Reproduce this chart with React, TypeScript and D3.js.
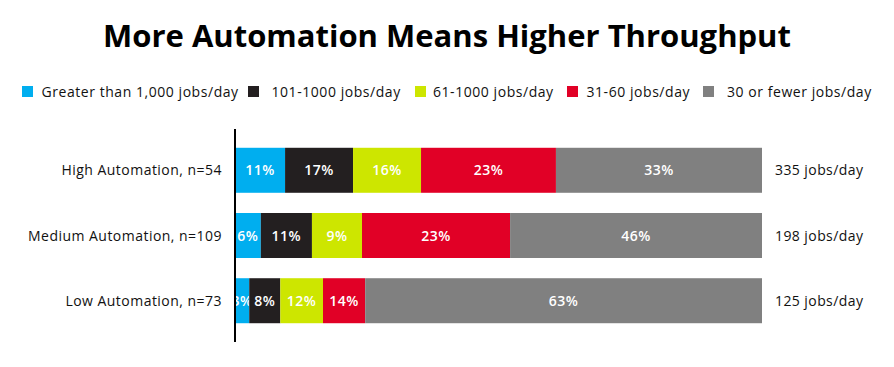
import React, { useEffect, useRef } from 'react';
import * as d3 from 'd3';

const title = 'More Automation Means Higher Throughput';
const categories = ['High Automation, n=54', 'Medium Automation, n=109', 'Low Automation, n=73'];
const seriesNames = ['Greater than 1,000 jobs/day', '101-1000 jobs/day', '61-1000 jobs/day', '31-60 jobs/day', '30 or fewer jobs/day'];
const colors = ['#00aeef', '#231f20', '#cde600', '#e10026', '#808080'];
// bar lengths as drawn (share of bar width)
const high = [9.5, 12.9, 12.9, 25.6, 39.1];
const medium = [4.9, 9.7, 9.5, 28.1, 47.8];
const low = [2.7, 5.9, 8.1, 8.0, 75.3];
// printed labels
const highLabels = ['11%', '17%', '16%', '23%', '33%'];
const mediumLabels = ['6%', '11%', '9%', '23%', '46%'];
const lowLabels = ['3%', '8%', '12%', '14%', '63%'];
const totals = ['335 jobs/day', '198 jobs/day', '125 jobs/day'];

const W = 894;
const H = 359;
const font = "'Open Sans', sans-serif";
// legend layout: swatch left edge and text left edge per item
const legendSwatchX = [22, 248, 415, 567, 703];
const legendTextX = [41.5, 271.5, 433, 586.5, 727];

export default function App() {
  const ref = useRef<SVGSVGElement>(null);

  useEffect(() => {
    const svg = d3.select(ref.current);
    svg.selectAll('*').remove();

    const rows = [high, medium, low];
    const labels = [highLabels, mediumLabels, lowLabels];

    const x = d3.scaleLinear().domain([0, 100]).range([235, 762]);
    const y = d3.scaleBand().domain(categories).range([138, 333]).paddingInner(0.31).paddingOuter(0.15);

    svg.append('text')
      .attr('x', W / 2).attr('y', 47)
      .attr('text-anchor', 'middle')
      .attr('font-family', font).attr('font-weight', 700)
      .attr('font-size', 31)
      .text(title);

    // legend
    const lg = svg.append('g');
    seriesNames.forEach((name, i) => {
      lg.append('rect').attr('x', legendSwatchX[i]).attr('y', 86).attr('width', 11).attr('height', 11).attr('fill', colors[i]);
      lg.append('text').attr('x', legendTextX[i]).attr('y', 97)
        .attr('font-family', font).attr('font-size', 14).attr('letter-spacing', 0.55)
        .attr('fill', '#111').text(name);
    });

    // bars
    categories.forEach((cat, r) => {
      const stack = d3.cumsum(rows[r]);
      const y0 = y(cat)!;
      rows[r].forEach((v, i) => {
        const start = stack[i] - v;
        svg.append('rect')
          .attr('x', x(start)).attr('y', y0)
          .attr('width', x(stack[i]) - x(start)).attr('height', y.bandwidth())
          .attr('fill', colors[i]);
        svg.append('text')
          .attr('x', (x(start) + x(stack[i])) / 2).attr('y', y0 + y.bandwidth() / 2 + 5)
          .attr('text-anchor', 'middle')
          .attr('font-family', font).attr('font-weight', 600).attr('font-size', 14)
          .attr('letter-spacing', 0.5)
          .attr('fill', '#fff').text(labels[r][i]);
      });
      svg.append('text')
        .attr('x', 222).attr('y', y0 + y.bandwidth() / 2 + 5)
        .attr('text-anchor', 'end')
        .attr('font-family', font).attr('font-size', 14).attr('letter-spacing', 0.47)
        .attr('fill', '#111').text(cat);
      svg.append('text')
        .attr('x', 775).attr('y', y0 + y.bandwidth() / 2 + 5)
        .attr('font-family', font).attr('font-size', 14).attr('letter-spacing', 0.42)
        .attr('fill', '#111').text(totals[r]);
    });

    svg.append('line')
      .attr('x1', 235).attr('x2', 235).attr('y1', 129).attr('y2', 342)
      .attr('stroke', '#000').attr('stroke-width', 2);
  }, []);

  return (
    <svg ref={ref} width={W} height={H} style={{ display: 'block', margin: '-8px 0 0 -8px', background: '#fff' }} />
  );
}
